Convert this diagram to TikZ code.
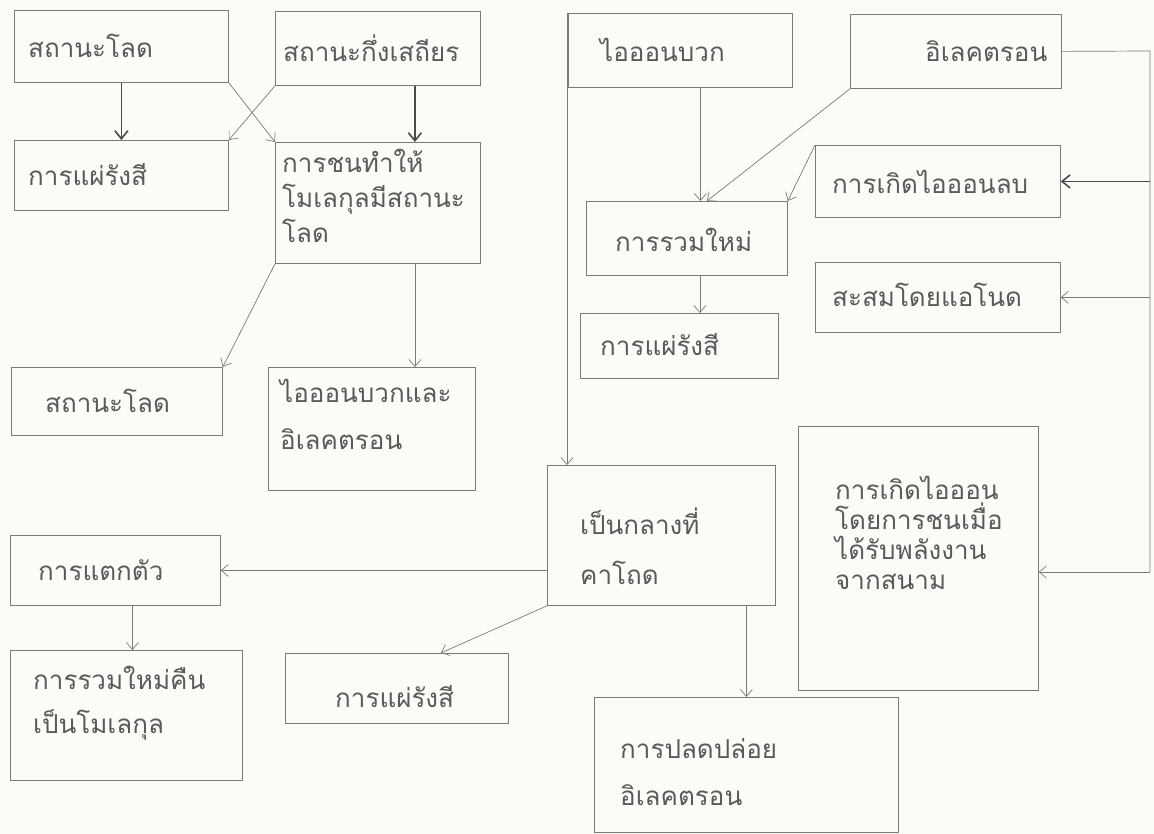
\documentclass[tikz,border=0pt]{standalone}
\usepackage{fontspec}
\newfontfamily\thai[Script=Thai]{Loma}
\usetikzlibrary{arrows.meta}
\definecolor{linec}{HTML}{7A7A7A}
\definecolor{dark}{HTML}{4A4A4A}
\definecolor{textc}{HTML}{5A5A5A}
\definecolor{paper}{HTML}{FBFBF8}
\begin{document}
\begin{tikzpicture}[x=1pt,y=-1pt,
  box/.style={draw=linec, line width=0.8pt, anchor=north west, inner sep=0pt},
  txt/.style={text=textc, font=\thai\fontsize{26}{35}\selectfont, align=left, anchor=west, inner sep=0pt},
  arr/.style={draw=linec, line width=0.7pt, -{Straight Barb[length=7pt,width=12pt]}},
  arrk/.style={draw=dark, line width=1.6pt, -{Straight Barb[length=8pt,width=13pt]}},
  wire/.style={draw=linec, line width=0.7pt}]
\useasboundingbox[fill=paper] (0,0) rectangle (1154,834);
% boxes
\node[box, minimum width=214pt, minimum height=72pt]  (a1) at (14,10) {};
\node[box, minimum width=205pt, minimum height=74pt]  (a2) at (275,11) {};
\node[box, minimum width=214pt, minimum height=70pt]  (b1) at (14,140) {};
\node[box, minimum width=205pt, minimum height=121pt] (b2) at (275,142) {};
\node[box, minimum width=211pt, minimum height=68pt]  (c1) at (11,367) {};
\node[box, minimum width=207pt, minimum height=123pt] (c2) at (268,367) {};
\node[box, minimum width=224pt, minimum height=74pt]  (d1) at (568,13) {};
\node[box, minimum width=211pt, minimum height=74pt]  (d2) at (850,14) {};
\node[box, minimum width=201pt, minimum height=74pt]  (e1) at (586,201) {};
\node[box, minimum width=198pt, minimum height=65pt]  (e2) at (580,313) {};
\node[box, minimum width=245pt, minimum height=72pt]  (f1) at (815,145) {};
\node[box, minimum width=245pt, minimum height=70pt]  (f2) at (815,262) {};
\node[box, minimum width=240pt, minimum height=264pt] (g)  at (798,426) {};
\node[box, minimum width=228pt, minimum height=140pt] (h)  at (547,465) {};
\node[box, minimum width=210pt, minimum height=70pt]  (i1) at (10,535) {};
\node[box, minimum width=232pt, minimum height=130pt] (i2) at (10,650) {};
\node[box, minimum width=223pt, minimum height=70pt]  (j)  at (285,653) {};
\node[box, minimum width=304pt, minimum height=135pt] (k)  at (594,697) {};
% texts
\node[txt] (ta1) at (28,46) {สถานะโลด};
\node[txt] (ta2) at (283,48) {สถานะกึ่งเสถียร};
\node[txt] (tb1) at (28,175) {การแผ่รังสี};
\node[txt] (tb2) at (282,196) {การชนทำให้\\โมเลกุลมีสถานะ\\โลด};
\node[txt] (tc1) at (45,401) {สถานะโลด};
\node[txt, font=\thai\fontsize{26}{47}\selectfont] (tc2) at (280,414) {ไอออนบวกและ\\อิเลคตรอน};
\node[txt] (td1) at (600,50) {ไอออนบวก};
\node[txt] (td2) at (925,51) {อิเลคตรอน};
\node[txt] (te1) at (615,240) {การรวมใหม่};
\node[txt] (te2) at (600,345) {การแผ่รังสี};
\node[txt] (tf1) at (832,182) {การเกิดไอออนลบ};
\node[txt] (tf2) at (832,295) {สะสมโดยแอโนด};
\node[txt, font=\thai\fontsize{26}{30}\selectfont] (tg) at (835,533) {การเกิดไอออน\\โดยการชนเมื่อ\\ได้รับพลังงาน\\จากสนาม};
\node[txt, font=\thai\fontsize{26}{50}\selectfont] (th) at (580,546) {เป็นกลางที่\\คาโถด};
\node[txt] (ti1) at (38,570) {การแตกตัว};
\node[txt, font=\thai\fontsize{26}{44}\selectfont] (ti2) at (33,703) {การรวมใหม่คืน\\เป็นโมเลกุล};
\node[txt] (tj) at (335,697) {การแผ่รังสี};
\node[txt, font=\thai\fontsize{26}{47}\selectfont] (tk) at (620,772) {การปลดปล่อย\\อิเลคตรอน};
% connectors, left part
\draw[arrk] (a1.south) -- (b1.north);
\draw[arrk] ([xshift=37pt]a2.south) -- ([xshift=37pt]b2.north);
\draw[arr] (a1.south east) -- (b2.north west);
\draw[arr] (a2.south west) -- (b1.north east);
\draw[arr] (b2.south west) -- (c1.north east);
\draw[arr] ([xshift=37pt]b2.south) -- ([xshift=37pt]b2.south |- c2.north);
% middle part
\draw[arr] ([xshift=20pt]d1.south) -- ([xshift=20pt]d1.south |- e1.north);
\draw[arr] (d2.south west) -- ([xshift=20pt]e1.north);
\draw[arr] (f1.north west) -- (e1.north east);
\draw[arr] ([xshift=13pt]e1.south) -- ([xshift=13pt]e1.south |- e2.north);
\draw[arr] ([xshift=-1pt]d1.north west) -- ([xshift=-1pt]d1.north west |- h.north);
\draw[arr] (i1.east -| h.west) -- (i1.east);
\draw[arr] (h.south west) -- ([xshift=44pt]j.north);
\draw[arr] (h.south -| k.north) -- (k.north);
\draw[arr] ([xshift=17pt]i1.south) -- ([xshift=17pt]i1.south |- i2.north);
% right part
\coordinate (rt) at (1150,51);
\coordinate (gy) at (1150,572);
\draw[wire] (d2.east) -- (rt) -- (gy);
\draw[arrk] (f1.east -| rt) -- (f1.east);
\draw[arr] (f2.east -| rt) -- (f2.east);
\draw[arr] (gy) -- (gy -| g.east);
\end{tikzpicture}
\end{document}
